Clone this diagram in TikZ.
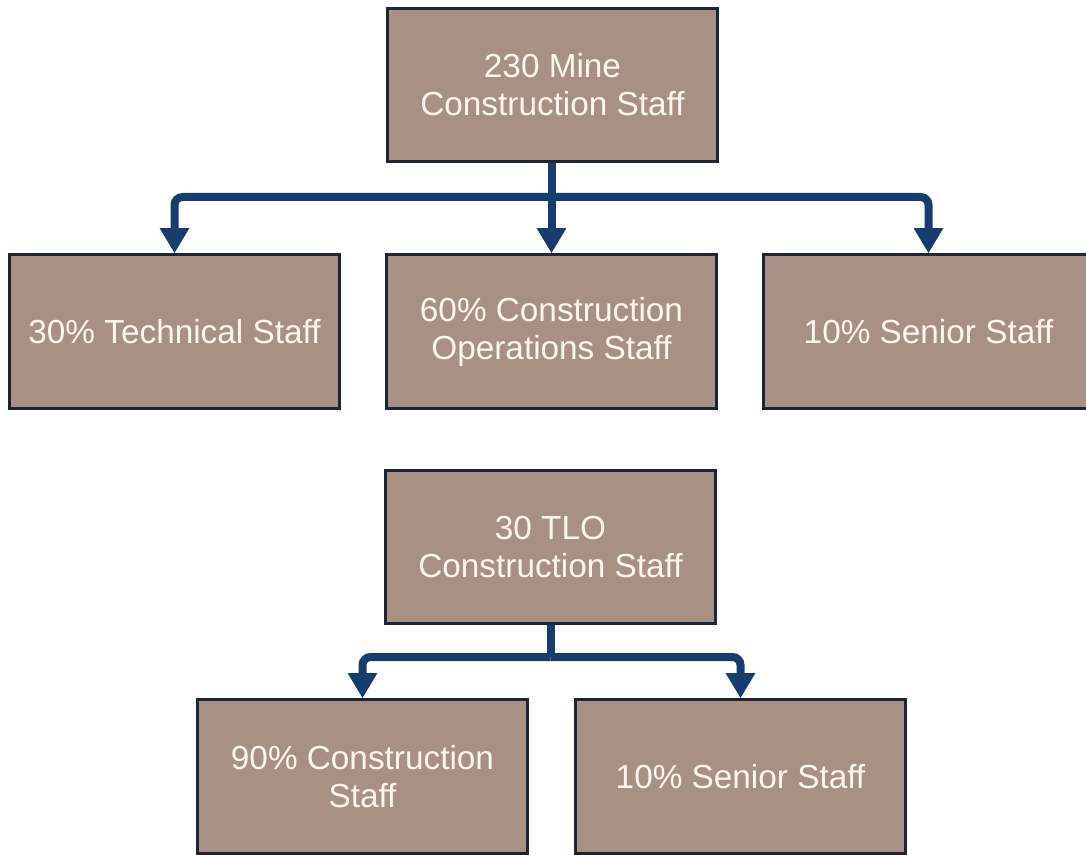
\documentclass[tikz,border=0pt]{standalone}
\usepackage{fontspec}
\setmainfont{Liberation Sans}
\usetikzlibrary{arrows.meta}
\definecolor{boxfill}{RGB}{168,144,132}
\definecolor{boxedge}{RGB}{28,37,54}
\definecolor{linknavy}{RGB}{23,61,110}
\definecolor{boxtext}{RGB}{251,246,238}
\tikzset{
  staffbox/.style={rectangle, fill=boxfill, draw=boxedge, line width=2.2pt,
    minimum width=248pt, minimum height=115pt, inner sep=0pt,
    text=boxtext, align=center,
    font=\fontsize{25pt}{28.5pt}\selectfont},
  link/.style={draw=linknavy, line width=6pt, rounded corners=6pt,
    -{Triangle[width=21pt,length=19pt]}},
  stem/.style={draw=linknavy, line width=6pt}
}
\begin{document}
\begin{tikzpicture}[x=0.75pt, y=-0.75pt]
\useasboundingbox (0,0) rectangle (1086,855);
\clip (0,0) rectangle (1086,855);

% mine construction breakdown
\node[staffbox] (mine) at (552.5,85) {230 Mine\\Construction Staff};
\node[staffbox] (tech) at (174.5,331.5) {30\% Technical Staff};
\node[staffbox] (ops) at (551.5,331.5) {60\% Construction\\Operations Staff};
\node[staffbox] (senior) at (928.5,331.5) {10\% Senior Staff};

\coordinate (minebus) at (551.5,197);
\draw[stem] (mine.south -| ops.north) -- (minebus);
\draw[link] (minebus) -| (tech.north);
\draw[link] (minebus) -| (senior.north);
\draw[link] (mine.south -| ops.north) -- (ops.north);

% TLO construction breakdown
\node[staffbox] (tlo) at (550.5,547) {30 TLO\\Construction Staff};
\node[staffbox] (tloconst) at (362.5,776.5) {90\% Construction\\Staff};
\node[staffbox] (tlosenior) at (740.5,776.5) {10\% Senior Staff};

\coordinate (tlobus) at (550.5,657);
\draw[stem] (tlo.south) -- (tlobus);
\draw[link] (tlobus) -| (tloconst.north);
\draw[link] (tlobus) -| (tlosenior.north);
\end{tikzpicture}
\end{document}
